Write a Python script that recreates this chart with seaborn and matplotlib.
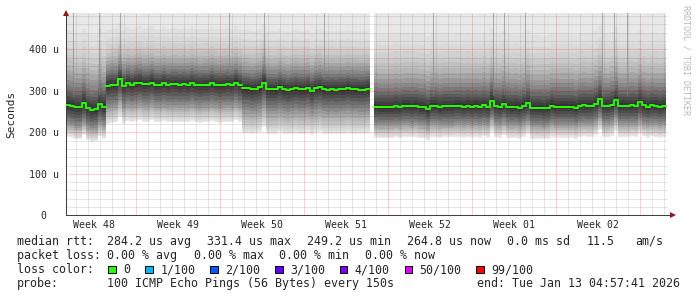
import numpy as np
import pandas as pd
import matplotlib
matplotlib.use("Agg")
import matplotlib.pyplot as plt
from matplotlib.patches import Rectangle
import seaborn as sns

# ---------------- data ----------------
# median RTT in microseconds, one value per 8-hour column, per segment
median_seg1 = [266, 264, 260, 260, 270, 258, 254, 255, 268, 262]
median_seg2 = [312, 314, 315, 328, 312, 318, 315, 318, 320, 316, 316, 320, 315, 315, 318, 315, 316,
               316, 315, 316, 315, 318, 315, 313, 315, 315, 318, 315, 313, 315, 316, 315, 320, 315]
median_seg3 = [306, 306, 304, 305, 308, 320, 304, 304, 304, 308, 304, 302, 304, 306, 304, 304,
               306, 300, 306, 308, 304, 303, 304, 303, 304, 304, 306, 304, 304, 303, 303, 305]
median_seg4 = [262, 261, 261, 261, 261, 263, 261, 264, 264, 263, 264, 261, 261, 256, 264, 264,
               261, 263, 263, 263, 264, 264, 262, 264, 262, 264, 262, 265, 262, 276, 264, 262,
               268, 262, 261, 262, 259, 264, 270, 259, 259, 259, 258, 259, 264, 262, 262, 262,
               262, 262, 259, 264, 265, 264, 264, 269, 280, 264, 264, 267, 278, 264, 264, 264,
               265, 264, 272, 265, 262, 265, 264, 262, 264]
seg_first_col = [0, 10, 44, 77]          # column 76 has no data
cols_per_day = 3                          # 8-hour consolidation columns

# smoke: ping-rank levels (lower side; upper side mirrored) and offsets (us) from the median
low_levels = [0.00, 0.02, 0.04, 0.06, 0.08, 0.10, 0.13, 0.16, 0.20, 0.24, 0.28, 0.32, 0.36, 0.40, 0.44, 0.47]
low_off_seg1 = [-77, -74, -71, -68, -65, -62, -58, -54, -49, -44, -38, -32, -26, -19, -12, -5]
high_off_seg1 = [280, 180, 155, 137, 122, 110, 96, 84, 71, 59, 48, 39, 30, 22, 14, 6]
low_off_seg2 = [-91, -88, -84, -80, -76, -72, -67, -62, -56, -50, -43, -36, -28, -20, -12, -5]
high_off_seg2 = [240, 135, 115, 100, 89, 80, 70, 61, 52, 44, 36, 29, 23, 17, 11, 5]
low_off_seg3 = [-107, -103, -98, -93, -88, -83, -76, -69, -61, -53, -45, -37, -29, -21, -13, -6]
high_off_seg3 = [240, 140, 118, 103, 92, 83, 72, 63, 54, 45, 37, 30, 24, 18, 11, 5]
low_off_seg4 = [-75, -72, -69, -66, -63, -60, -56, -52, -47, -42, -37, -31, -25, -18, -11, -5]
high_off_seg4 = [280, 175, 150, 132, 118, 106, 92, 80, 67, 56, 46, 37, 29, 21, 13, 6]

# columns (days from left edge) with isolated high-latency streaks
streak_days = [0.56, 2.75, 4.5, 13.58, 16.5, 21.5, 30.58, 35.58, 36.5, 38.25, 44.67, 45.67, 46.75]

week_labels = ["Week 48", "Week 49", "Week 50", "Week 51", "Week 52", "Week 01", "Week 02"]
first_week_start = 5.8333                 # Monday 00:00 of Week 49, days from left edge
ytick_vals = [0, 100, 200, 300, 400]
ytick_labels = ["0  ", "100 u", "200 u", "300 u", "400 u"]

loss_labels = ["0", "1/100", "2/100", "3/100", "4/100", "50/100", "99/100"]
loss_colors = ["#26ff00", "#00b8ff", "#0059ff", "#5e00ff", "#7e00ff", "#dd00ff", "#ff0000"]

# ---------------- figure ----------------
sns.set_style("white")
plt.rcParams["font.family"] = ["DejaVu Sans Mono"]
MONO = "DejaVu Sans Mono"

W, H = 697, 297
fig = plt.figure(figsize=(W / 100, H / 100), dpi=100)
fig.patch.set_facecolor("white")
ax = fig.add_axes([66 / W, 81.7 / H, 602 / W, 202.3 / H])
ax.set_facecolor("white")
XMAX = 602 / 12
YMAX = 487.5
ax.set_xlim(0, XMAX)
ax.set_ylim(0, YMAX)

segments = [median_seg1, median_seg2, median_seg3, median_seg4]
lows = [low_off_seg1, low_off_seg2, low_off_seg3, low_off_seg4]
highs = [high_off_seg1, high_off_seg2, high_off_seg3, high_off_seg4]

rows = []
for si, (med, start) in enumerate(zip(segments, seg_first_col)):
    med = np.asarray(med, float)
    n = len(med)
    x = (start + np.arange(n + 1)) / cols_per_day
    m = np.append(med, med[-1])
    for k in range(len(low_levels)):
        nxt = low_levels[k + 1] if k + 1 < len(low_levels) else 0.5
        p_mid = (low_levels[k] + nxt) / 2
        g = int(50 + 190 / 50 * (49 - 100 * p_mid))
        col = "#%02x%02x%02x" % (g, g, g)
        ax.fill_between(x, m + lows[si][k], m + highs[si][k], step="post",
                        color=col, linewidth=0, antialiased=False, zorder=1)
    for xi, mi in zip(x, m):
        rows.append({"day": xi, "median": mi, "seg": si})

df = pd.DataFrame(rows)

# streaks
all_days = df["day"].to_numpy()
all_med = df["median"].to_numpy()
for d in streak_days:
    i = int(np.argmin(np.abs(all_days - d)))
    ax.vlines(d, all_med[i] + 25, YMAX, color="#808080", lw=0.72, alpha=0.6,
              antialiased=False, zorder=1.5)

# grid (drawn over the smoke, like rrdtool)
dash = (0, (1, 1))
for yv in np.arange(20, YMAX, 20):
    major = int(round(yv)) % 100 == 0
    ax.axhline(yv, color="#ff0000" if major else "#5f5f5f", alpha=0.35 if major else 0.3,
               lw=0.72, ls=dash, zorder=2)
week_bounds = [first_week_start + 7 * i for i in range(len(week_labels))]
dd = first_week_start - 7
while dd < XMAX:
    if dd > 0:
        major = any(abs(dd - b) < 1e-6 for b in week_bounds)
        ax.axvline(dd, color="#ff0000" if major else "#5f5f5f", alpha=0.35 if major else 0.3,
                   lw=0.72, ls=dash, zorder=2)
    dd += 1

# median line
sns.lineplot(data=df, x="day", y="median", units="seg", estimator=None,
             drawstyle="steps-post", color="#26ff00", lw=1.4, ax=ax, zorder=3,
             legend=False)
ax.set_xlabel("")
ax.set_ylabel("")

# axes styling
for s in ["top", "right"]:
    ax.spines[s].set_visible(False)
for s in ["left", "bottom"]:
    ax.spines[s].set_color("#404040")
    ax.spines[s].set_linewidth(0.75)
ax.set_yticks(ytick_vals)
ax.set_yticklabels(ytick_labels, fontfamily=MONO, fontsize=7.1)
ax.set_xticks([b - 3.5 for b in week_bounds])
ax.set_xticklabels(week_labels, fontfamily=MONO, fontsize=7.1)
ax.tick_params(axis="both", length=0)
ax.tick_params(axis="y", pad=4.8)
ax.tick_params(axis="x", pad=3.6)

# arrows
ax.plot([0], [1.0], transform=ax.transAxes, marker="^", ms=4.0, color="#8b1a1a",
        clip_on=False, zorder=5, markeredgewidth=0)
ax.plot([1.0, 1.006], [0, 0], transform=ax.transAxes, color="#404040", lw=0.75, clip_on=False)
ax.plot([1.008], [0], transform=ax.transAxes, marker=">", ms=4.0, color="#8b1a1a",
        clip_on=False, zorder=5, markeredgewidth=0)

# y-axis title and watermark
fig.text(10.8 / W, 1 - 114 / H, "Seconds", rotation=90, ha="center", va="center",
         fontsize=8.0, fontfamily=MONO)
fig.text(686 / W, 1 - 60 / H, "RRDTOOL / TOBI OETIKER", rotation=-90, ha="center",
         va="center", fontsize=6.0, fontfamily=MONO, color="#b8b8b8")

# legend text
FS = 8.34
CW = 6.97


def put(x, baseline, s, ha="left"):
    fig.text(x / W, 1 - baseline / H, s, ha=ha, va="baseline", fontsize=FS, fontfamily=MONO)


line1 = ["median rtt:", "284.2 us avg", "331.4 us max", "249.2 us min", "264.8 us now",
         "0.0 ms sd", "11.5", "am/s"]
line1_x = [16.7, 107.3, 207.3, 307.0, 407.0, 507.0, 586.3, 635.3]
for s, xx in zip(line1, line1_x):
    put(xx, 245, s)

line2 = ["packet loss:", "0.00 % avg", "0.00 % max", "0.00 % min", "0.00 % now"]
line2_x = [16.7, 107.3, 194.0, 279.3, 365.3]
for s, xx in zip(line2, line2_x):
    put(xx, 259.2, s)

put(16.7, 273.3, "loss color:")
cursor = 108.3
for lab, colr in zip(loss_labels, loss_colors):
    fig.add_artist(Rectangle((cursor / W, 1 - 273.3 / H), 7.6 / W, 7.6 / H,
                             transform=fig.transFigure, facecolor=colr,
                             edgecolor="black", lw=0.7))
    put(cursor + 15, 273.3, lab)
    cursor += 15 + len(lab) * CW + 15

put(16.7, 287.3, "probe:")
put(107.3, 287.3, "100 ICMP Echo Pings (56 Bytes) every 150s")
put(680, 287.3, "end: Tue Jan 13 04:57:41 2026", ha="right")

fig.savefig("out.png", dpi=100, facecolor="white")
